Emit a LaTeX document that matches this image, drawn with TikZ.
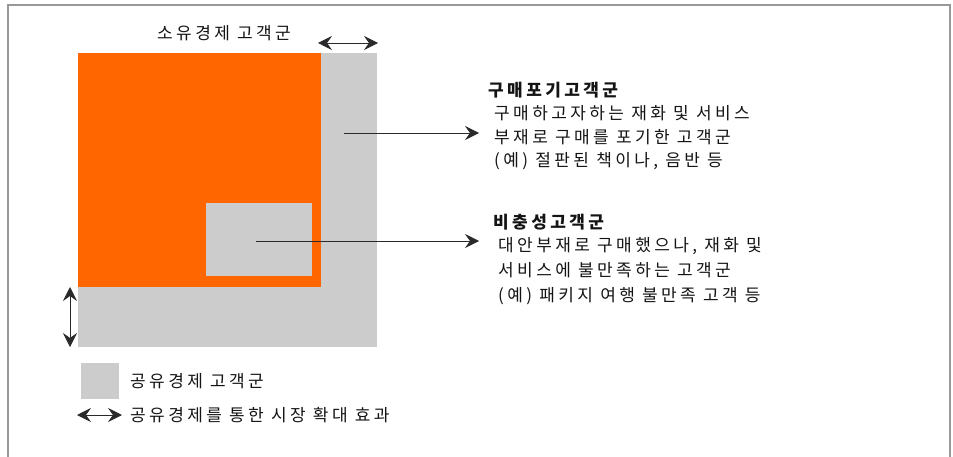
\documentclass[tikz,border=0pt]{standalone}
\usepackage{fontspec}
\newfontfamily\kr{Noto Sans CJK KR}[LetterSpace=20]
\usetikzlibrary{arrows.meta}
\definecolor{orng}{HTML}{FF6600}
\definecolor{lgray}{HTML}{CCCCCC}
\definecolor{frame}{HTML}{999999}
\definecolor{ink}{HTML}{141414}
\definecolor{arr}{HTML}{2A2A2A}
\tikzset{
  txt/.style={anchor=base west, inner sep=0pt, text=ink, font=\kr\fontsize{17}{20}\selectfont},
  ttl/.style={txt, font=\kr\bfseries\fontsize{17}{20}\selectfont},
  tip/.tip={Stealth[length=14pt,width=14pt,inset=5pt]},
  conn/.style={draw=arr, line width=0.9pt, -tip},
  dconn/.style={draw=arr, line width=0.9pt, tip-tip},
}
\begin{document}
\begin{tikzpicture}[x=1pt,y=-1pt]
\useasboundingbox (0,0) rectangle (953,457);
% frame
\draw[frame, line width=1.6pt] (8,460) -- (8,5) -- (950,5) -- (950,460);
% shapes
\fill[lgray] (78,53) rectangle (377,347);
\fill[orng] (78,53) rectangle (321,287);
\fill[lgray] (206,203) rectangle (312,276);
% top label and arrow
\node[txt] (own) at (157,39.3) {소유경제 고객군};
\coordinate (ta) at (318,43);
\coordinate (tb) at (378,43);
\draw[dconn] (ta) -- (tb);
% left vertical arrow
\coordinate (va) at (70,287);
\coordinate (vb) at (70,347);
\draw[dconn] (va) -- (vb);
% block 1
\coordinate (s1) at (344,133);
\node[ttl] (t1) at (488,96.3) {구매포기고객군};
\node[txt] (l11) at (494,119.3) {구매하고자하는 재화 및 서비스};
\node[txt] (l12) at (494,143.3) {부재로 구매를 포기한 고객군};
\node[txt] (l13) at (494,166.3) {(예) 절판된 책이나, 음반 등};
\coordinate (e1) at (479,133);
\draw[conn] (s1) -- (e1);
% block 2
\coordinate (s2) at (256,241);
\node[ttl] (t2) at (493,228.3) {비충성고객군};
\node[txt] (l21) at (498,251.3) {대안부재로 구매했으나, 재화 및};
\node[txt] (l22) at (498,276.3) {서비스에 불만족하는 고객군};
\node[txt] (l23) at (498,301.3) {(예) 패키지 여행 불만족 고객 등};
\coordinate (e2) at (479,241);
\draw[conn] (s2) -- (e2);
% legend
\node[fill=lgray, minimum width=38pt, minimum height=36pt, inner sep=0pt, anchor=north west] (lg) at (81,363) {};
\node[txt] (lgt) at (130,387.3) {공유경제 고객군};
\coordinate (la) at (77,415);
\coordinate (lb) at (122,415);
\draw[dconn] (la) -- (lb);
\node[txt] (lat) at (130,421.3) {공유경제를 통한 시장 확대 효과};
\end{tikzpicture}
\end{document}
